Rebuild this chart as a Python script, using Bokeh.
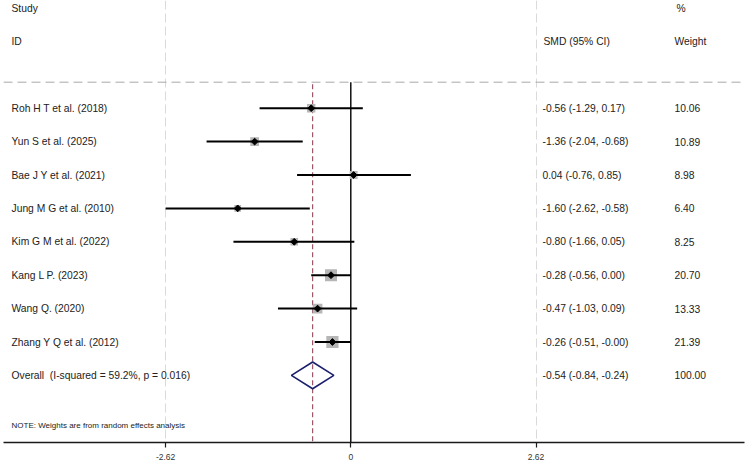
import math
from bokeh.plotting import figure
from bokeh.models import Range1d, FixedTicker, Span, ColumnDataSource
from bokeh.core.properties import value
from bokeh.embed import file_html
from bokeh.resources import INLINE

# ---------------- data ----------------
studies = ["Roh H T et al. (2018)", "Yun S et al. (2025)", "Bae J Y et al. (2021)",
           "Jung M G et al. (2010)", "Kim G M et al. (2022)", "Kang L P. (2023)",
           "Wang Q. (2020)", "Zhang Y Q et al. (2012)"]
smd = [-0.56, -1.36, 0.04, -1.60, -0.80, -0.28, -0.47, -0.26]
ci_lo = [-1.29, -2.04, -0.76, -2.62, -1.66, -0.56, -1.03, -0.51]
ci_hi = [0.17, -0.68, 0.85, -0.58, 0.05, 0.00, 0.09, -0.00]
weights = [10.06, 10.89, 8.98, 6.40, 8.25, 20.70, 13.33, 21.39]

overall_smd = -0.54
overall_lo = -0.84
overall_hi = -0.24
overall_weight = 100.00
i_squared = "59.2%"
p_value = "0.016"

tick_values = [-2.62, 0, 2.62]
tick_labels = ["-2.62", "0", "2.62"]

note_text = "NOTE: Weights are from random effects analysis"

# ---------------- layout helpers ----------------
PX0, PXU = 350.3, 70.7          # pixel of x=0, pixels per unit
ROW0, ROWH = 7.5, 33.4          # pixel of row 0, pixels per row
FRAME_H = 442


def px2x(px):
    return (px - PX0) / PXU


y_top = (0 - ROW0) / ROWH
y_bot = (FRAME_H - ROW0) / ROWH
hline_row = (81.7 - ROW0) / ROWH

x_label = px2x(11)
x_smd = px2x(542)
x_smd_head = px2x(543)
x_wt = px2x(674)
x_pct = px2x(676)

FONT = value("Liberation Sans")
TXT = "#222222"

p = figure(width=750, height=467,
           x_range=Range1d(px2x(3), px2x(744)),
           y_range=Range1d(y_bot, y_top),
           output_backend="svg", toolbar_location=None, title=None,
           x_axis_location="below", y_axis_location=None,
           min_border_left=3, min_border_right=6,
           min_border_top=0, min_border_bottom=25)
p.outline_line_color = None
p.background_fill_color = "white"
p.border_fill_color = "white"

# grid lines at +/- tick positions
p.ygrid.visible = False
p.xgrid.ticker = FixedTicker(ticks=[t for t in tick_values if t != 0])
p.xgrid.grid_line_color = "#dadada"
p.xgrid.grid_line_dash = "9 4"
p.xgrid.grid_line_width = 1

# axis
p.xaxis.ticker = FixedTicker(ticks=tick_values)
p.xaxis.major_label_overrides = {t: l for t, l in zip(tick_values, tick_labels)}
p.xaxis.axis_line_color = "#1a1a1a"
p.xaxis.axis_line_width = 1.4
p.xaxis.major_tick_line_color = "#1a1a1a"
p.xaxis.major_tick_line_width = 1.2
p.xaxis.major_tick_in = 0
p.xaxis.major_tick_out = 5
p.xaxis.minor_tick_line_color = None
p.xaxis.major_label_text_font = "Liberation Sans"
p.xaxis.major_label_text_font_size = "8.5px"
p.xaxis.major_label_text_color = "#333333"
p.xaxis.major_label_standoff = 6

# horizontal dashed separator
p.add_layout(Span(location=hline_row, dimension="width", line_color="#a8a8a8",
                  line_dash="9 5", line_width=1))

# rows
rows = [3 + i for i in range(len(studies))]
overall_row = 3 + len(studies)
note_row = overall_row + 1.5

# zero line and overall line
p.segment(x0=[0], y0=[hline_row], x1=[0], y1=[y_bot], line_color="black", line_width=1.4)
p.segment(x0=[overall_smd], y0=[hline_row + 0.06], x1=[overall_smd], y1=[y_bot],
          line_color="#9c5868", line_dash="5 3", line_width=1.2)

src = ColumnDataSource(dict(
    y=rows, smd=smd, lo=ci_lo, hi=ci_hi,
    size=[2.64 * math.sqrt(w) for w in weights],
    study=studies,
    est=[f"{m:.2f} ({a:.2f}, {b:.2f})" for m, a, b in zip(smd, ci_lo, ci_hi)],
    wt=[f"{w:.2f}" for w in weights],
))

p.scatter(x="smd", y="y", source=src, marker="square", size="size",
          fill_color="#b6b6b6", line_color=None)
p.segment(x0="lo", y0="y", x1="hi", y1="y", source=src, line_color="black", line_width=2)
p.scatter(x="smd", y="y", source=src, marker="square", angle=math.pi / 4, size=4.8,
          fill_color="black", line_color="black")

# overall diamond
dh = 0.4
p.patch(x=[overall_lo, overall_smd, overall_hi, overall_smd, overall_lo],
        y=[overall_row, overall_row - dh, overall_row, overall_row + dh, overall_row],
        fill_color=None, line_color="#1c206e", line_width=1.6)

# texts
txt_kw = dict(text_font=FONT, text_font_size="10.3px", text_baseline="middle",
              text_align="left", text_color=TXT)
p.text(x="x", y="y", text="t", source=ColumnDataSource(dict(
    x=[x_label, x_label, x_pct, x_smd_head, x_wt],
    y=[0, 1, 0, 1, 1],
    t=["Study", "ID", "%", "SMD (95% CI)", "Weight"])), **txt_kw)

p.text(x=x_label, y="y", text="study", source=src, **txt_kw)
p.text(x=x_smd, y="y", text="est", source=src, **txt_kw)
p.text(x=x_wt, y="y", text="wt", source=src, **txt_kw)

p.text(x=[x_label, x_smd, x_wt], y=[overall_row] * 3,
       text=[f"Overall\u00a0 (I-squared = {i_squared}, p = {p_value})",
             f"{overall_smd:.2f} ({overall_lo:.2f}, {overall_hi:.2f})",
             f"{overall_weight:.2f}"], **txt_kw)

p.text(x=[x_label], y=[note_row], text=[note_text], text_font=FONT,
       text_font_size="8px", text_baseline="middle", text_align="left", text_color=TXT)

open("out.html", "w").write(file_html(p, INLINE))
